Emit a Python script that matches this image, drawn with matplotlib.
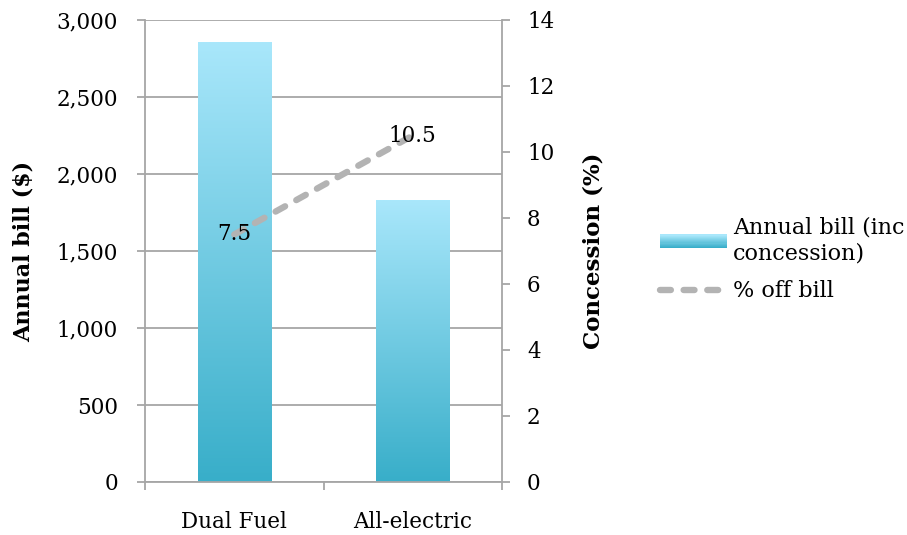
import numpy as np
import matplotlib
matplotlib.use("Agg")
import matplotlib.pyplot as plt
from matplotlib.patches import Rectangle
from matplotlib.legend_handler import HandlerPatch
from matplotlib.colors import LinearSegmentedColormap

categories = ["Dual Fuel", "All-electric"]
annual_bill = [2855, 1830]
concession_pct = [7.5, 10.5]
bill_ticks = [0, 500, 1000, 1500, 2000, 2500, 3000]
pct_ticks = [0, 2, 4, 6, 8, 10, 12, 14]

plt.rcParams['font.family'] = ['DejaVu Serif']
plt.rcParams['font.size'] = 15.5

GRID = '#a6a6a6'
grad = LinearSegmentedColormap.from_list('bar', ['#38aec9', '#a9e7fb'])

fig = plt.figure(figsize=(9.07, 5.35), dpi=100)
ax = fig.add_axes([145 / 907, 53 / 535, 357 / 907, 462 / 535])
x = np.arange(len(categories))

bars = ax.bar(x, annual_bill, width=0.41, color='none', zorder=2)
gimg = np.linspace(0, 1, 256).reshape(-1, 1)
for b in bars:
    x0, y0 = b.get_x(), b.get_y()
    w, h = b.get_width(), b.get_height()
    im = ax.imshow(gimg, cmap=grad, origin='lower', aspect='auto',
                   extent=(x0, x0 + w, y0, y0 + h), zorder=2)
    im.set_clip_path(b)

ax.set_xlim(-0.5, 1.5)
ax.set_ylim(0, 3000)
ax.set_yticks(bill_ticks)
ax.set_yticklabels([f"{v:,}" for v in bill_ticks])
ax.set_xticks([-0.5, 0.5, 1.5], minor=False)
ax.set_xticklabels([])
ax.set_xticks(x, minor=True)
ax.set_xticklabels(categories, minor=True)
ax.tick_params(axis='x', which='minor', length=0, pad=21)
ax.tick_params(axis='x', which='major', length=6, width=1.3, color=GRID, direction='out')
ax.tick_params(axis='y', length=6, width=1.3, color=GRID, pad=13.5)
ax.yaxis.grid(True, color=GRID, linewidth=1.3, zorder=0)
ax.set_axisbelow(True)
for s in ['top', 'right']:
    ax.spines[s].set_visible(False)
for s in ['left', 'bottom']:
    ax.spines[s].set_color(GRID)
    ax.spines[s].set_linewidth(1.3)
ax.set_ylabel("Annual bill ($)", fontweight='bold', fontsize=16, labelpad=16)

ax2 = ax.twinx()
ax2.set_ylim(0, 14)
ax2.set_yticks(pct_ticks)
ax2.tick_params(axis='y', length=6, width=1.3, color=GRID, pad=12)
for s in ['top', 'left', 'bottom']:
    ax2.spines[s].set_visible(False)
ax2.spines['right'].set_color(GRID)
ax2.spines['right'].set_linewidth(1.3)
line, = ax2.plot(x, concession_pct, color='#b3b3b3', linewidth=4.6,
                 dashes=(1.7, 2.0), dash_capstyle='round', zorder=3)
for xi, v in zip(x, concession_pct):
    ax2.text(xi, v, f"{v}", ha='center', va='center', fontsize=15.5, zorder=4)
ax2.set_ylabel("Concession (%)", fontweight='bold', fontsize=16.5, labelpad=20)


class GradientHandler(HandlerPatch):
    def create_artists(self, legend, orig_handle, xdescent, ydescent,
                       width, height, fontsize, trans):
        n = 12
        arts = []
        for i in range(n):
            r = Rectangle((-xdescent, -ydescent + height * i / n), width, height / n + 0.3,
                          facecolor=grad(i / (n - 1)), edgecolor='none', transform=trans)
            arts.append(r)
        return arts


proxy = Rectangle((0, 0), 1, 1)
leg = fig.legend([proxy, line], ["Annual bill (inc\nconcession)", "% off bill"],
                 handler_map={Rectangle: GradientHandler()},
                 loc='center left', bbox_to_anchor=(640 / 907, 0.515), frameon=False,
                 handlelength=3.0, handleheight=0.55, handletextpad=0.3, labelspacing=0.7,
                 fontsize=16)
for t in leg.get_texts():
    t.set_linespacing(1.25)

fig.savefig("out.png", dpi=100)
